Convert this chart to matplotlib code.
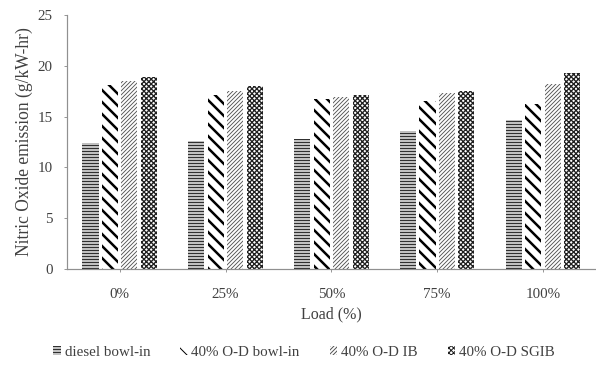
import numpy as np
import matplotlib.pyplot as plt
from matplotlib.patches import Patch

loads = ['0%', '25%', '50%', '75%', '100%']
series_names = ['diesel bowl-in', '40% O-D bowl-in', '40% O-D IB', '40% O-D SGIB']
diesel_bowl = [12.4, 12.6, 12.8, 13.6, 14.7]
od_bowl = [18.1, 17.1, 16.7, 16.5, 16.2]
od_ib = [18.5, 17.5, 16.9, 17.3, 18.2]
od_sgib = [18.9, 18.0, 17.1, 17.5, 19.3]
y_ticks = [0, 5, 10, 15, 20, 25]

# face, hatch, hatch colour, hatch line width
styles = [
    ('#c0c0c0', '----', '#303030', 1.0),
    ('white', '\\\\', 'black', 2.5),
    ('white', '//////', '#555555', 0.9),
    ('white', 'xxxxx', '#202020', 1.3),
]

plt.rcParams['font.family'] = ['Liberation Serif', 'DejaVu Serif']
text_col = '#404040'

fig = plt.figure(figsize=(596 / 72, 369 / 72), dpi=72)
ax = fig.add_axes([0.112, 0.272, 0.888, 0.687])

x = np.arange(len(loads))
slot = 0.184
width = 0.152
data = [diesel_bowl, od_bowl, od_ib, od_sgib]
for i, vals in enumerate(data):
    face, hatch, hcol, hlw = styles[i]
    with plt.rc_context({'hatch.linewidth': hlw}):
        bars = ax.bar(x + (i - 1.5) * slot, vals, width, color=face,
                      edgecolor=hcol, linewidth=0, hatch=hatch)
    for b in bars:
        if hasattr(b, 'set_hatch_linewidth'):
            b.set_hatch_linewidth(hlw)

ax.set_xlim(-0.5, len(loads) - 0.5)
ax.set_ylim(0, 25)
ax.set_yticks(y_ticks)
ax.set_xticks(x)
ax.set_xticklabels(loads)
ax.tick_params(axis='x', length=3, pad=16, labelsize=15, colors='#808080',
               labelcolor=text_col)
ax.tick_params(axis='y', length=3, pad=11, labelsize=15, colors='#808080',
               labelcolor=text_col)
for s in ['top', 'right']:
    ax.spines[s].set_visible(False)
for s in ['left', 'bottom']:
    ax.spines[s].set_color('#909090')
    ax.spines[s].set_linewidth(1.2)

ax.set_ylabel('Nitric Oxide emission (g/kW-hr)', fontsize=17.5, color=text_col,
              labelpad=5)
ax.set_xlabel('Load (%)', fontsize=16, color=text_col, labelpad=6)

handles = []
for i, name in enumerate(series_names):
    face, hatch, hcol, hlw = styles[i]
    with plt.rc_context({'hatch.linewidth': hlw}):
        p = Patch(facecolor=face, edgecolor=hcol, linewidth=0, hatch=hatch,
                  label=name)
    if hasattr(p, 'set_hatch_linewidth'):
        p.set_hatch_linewidth(min(hlw, 1.6))
    handles.append(p)

fig.legend(handles=handles, loc='center', bbox_to_anchor=(0.51, 0.046),
           ncol=4, frameon=False, fontsize=15, handlelength=0.5,
           handleheight=0.6, handletextpad=0.25, columnspacing=2.0,
           labelcolor=text_col)

fig.savefig('out.png', dpi=72, facecolor='white')
